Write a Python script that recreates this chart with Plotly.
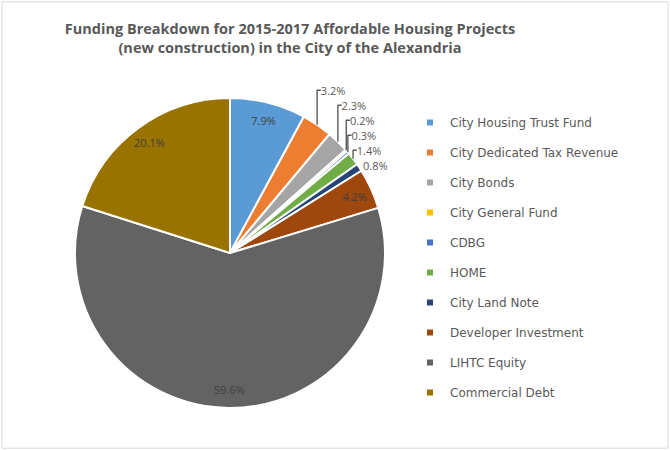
import plotly.graph_objects as go

# funding sources, share of total (%)
sources = ["City Housing Trust Fund", "City Dedicated Tax Revenue", "City Bonds",
           "City General Fund", "CDBG", "HOME", "City Land Note",
           "Developer Investment", "LIHTC Equity", "Commercial Debt"]
shares = [7.9, 3.2, 2.3, 0.2, 0.3, 1.4, 0.8, 4.2, 59.6, 20.1]
colors = ["#5B9BD5", "#ED7D31", "#A5A5A5", "#FFC000", "#4472C4",
          "#70AD47", "#264478", "#9E480E", "#636363", "#997300"]
inside = [True, False, False, False, False, False, False, True, True, True]

W, H = 670, 450
pie_domain = dict(x=[75 / W, 385 / W], y=[1 - 408 / H, 1 - 98 / H])
fig = go.Figure()

# the pie itself, carrying the small outside labels
fig.add_trace(go.Pie(
    labels=sources,
    values=shares,
    sort=False,
    direction="clockwise",
    rotation=0,
    marker=dict(colors=colors, line=dict(color="white", width=2)),
    texttemplate="%{value:.1f}%",
    textposition=["none" if i else "outside" for i in inside],
    outsidetextfont=dict(family="Open Sans", size=11, color="#595959"),
    domain=pie_domain,
    showlegend=False,
    hoverinfo="label+percent",
))

# transparent ring on top so the big labels sit out near the rim like Excel
fig.add_trace(go.Pie(
    labels=sources,
    values=shares,
    sort=False,
    direction="clockwise",
    rotation=0,
    hole=0.76,
    marker=dict(colors=["rgba(0,0,0,0)"] * len(sources), line=dict(width=0)),
    texttemplate="%{value:.1f}%",
    textposition=["inside" if i else "none" for i in inside],
    insidetextorientation="horizontal",
    insidetextfont=dict(family="Open Sans", size=11, color="#404040"),
    domain=pie_domain,
    showlegend=False,
    hoverinfo="skip",
))

# legend entries as small square markers, one group each so the gap can be set
for name, col in zip(sources, colors):
    fig.add_trace(go.Scatter(
        x=[None], y=[None], mode="markers", name=name, legendgroup=name,
        marker=dict(symbol="square", size=6, color=col),
    ))

fig.update_layout(
    width=W, height=H,
    paper_bgcolor="white", plot_bgcolor="white",
    margin=dict(l=0, r=0, t=0, b=0),
    title=dict(
        text="<b>Funding Breakdown for 2015-2017 Affordable Housing Projects<br>"
             "(new construction) in the City of the Alexandria</b>",
        x=290 / W, xanchor="center", y=1 - 34 / H, yanchor="top",
        font=dict(family="Open Sans", size=14.5, color="#595959"),
    ),
    xaxis=dict(visible=False), yaxis=dict(visible=False),
    legend=dict(
        x=410 / W, xanchor="left", y=1 - 108 / H, yanchor="top",
        font=dict(family="DejaVu Sans", size=12, color="#595959"),
        tracegroupgap=11, bgcolor="rgba(0,0,0,0)",
    ),
    shapes=[dict(type="rect", xref="paper", yref="paper", x0=0.003, x1=0.997,
                 y0=0.004, y1=0.996, line=dict(color="#D9D9D9", width=1))],
)

# drop the default page margin so the figure sits at the window corner
fig.write_html("out.html", config={"displayModeBar": False},
               post_script="document.body.style.margin='0px';")
